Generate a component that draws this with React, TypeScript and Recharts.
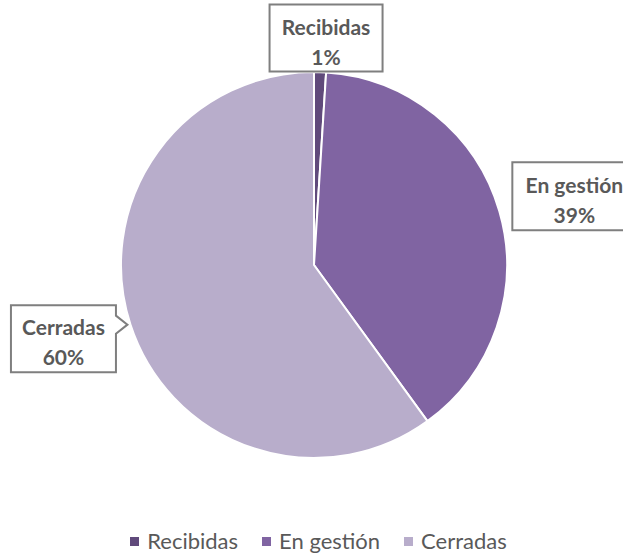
import { PieChart, Pie, Cell, Legend } from 'recharts';

const categories = ['Recibidas', 'En gestión', 'Cerradas'];
const values = [1, 39, 60];
const colors = ['#604a7b', '#8064a2', '#b8adcb'];

// posición de cada etiqueta respecto al borde del sector
const labelBoxes = [
  { dx: 6, dy: -34, w: 113, h: 67, pointer: 'none' },
  { dx: 75, dy: -15, w: 124, h: 68, pointer: 'none' },
  { dx: -67, dy: 14, w: 105, h: 67, pointer: 'right' },
];

const data = categories.map((name, i) => ({ name, value: values[i] }));

const RADIAN = Math.PI / 180;
const FONT = 'Lato, "Open Sans", sans-serif';

function renderLabel(props: any) {
  const { cx, cy, midAngle, outerRadius, percent, name, index } = props;
  const ox = cx + outerRadius * Math.cos(-midAngle * RADIAN);
  const oy = cy + outerRadius * Math.sin(-midAngle * RADIAN);
  const box = labelBoxes[index];
  const bx = ox + box.dx;
  const by = oy + box.dy;
  const x0 = bx - box.w / 2;
  const x1 = bx + box.w / 2;
  const y0 = by - box.h / 2;
  const y1 = by + box.h / 2;

  let d = `M${x0},${y0} L${x1},${y0} L${x1},${y1} L${x0},${y1} Z`;
  if (box.pointer === 'right') {
    d = `M${x0},${y0} L${x1},${y0} L${x1},${oy - 9} L${ox - 3},${oy} L${x1},${oy + 9} L${x1},${y1} L${x0},${y1} Z`;
  }

  return (
    <g>
      <path d={d} fill="#ffffff" stroke="#7f7f7f" strokeWidth={2} />
      <text
        x={bx}
        y={by - 12}
        textAnchor="middle"
        dominantBaseline="central"
        fill="#595959"
        fontFamily={FONT}
        fontWeight="bold"
        fontSize={21}
      >
        {name}
      </text>
      <text
        x={bx}
        y={by + 18}
        textAnchor="middle"
        dominantBaseline="central"
        fill="#595959"
        fontFamily={FONT}
        fontWeight="bold"
        fontSize={21}
      >
        {`${Math.round(percent * 100)}%`}
      </text>
    </g>
  );
}

function LegendContent() {
  return (
    <div
      style={{
        display: 'flex',
        justifyContent: 'center',
        fontFamily: FONT,
        fontSize: 22,
        lineHeight: '24px',
        color: '#595959',
        paddingLeft: 14,
      }}
    >
      {categories.map((name, i) => (
        <div key={name} style={{ display: 'flex', alignItems: 'center', margin: '0 12px' }}>
          <span style={{ width: 9, height: 9, background: colors[i], marginRight: 8, display: 'inline-block' }} />
          <span>{name}</span>
        </div>
      ))}
    </div>
  );
}

export default function App() {
  return (
    <div style={{ width: 623, height: 554, background: '#ffffff' }}>
      <style>{'body { margin: 0; }'}</style>
      <PieChart width={623} height={554} margin={{ top: 0, right: 0, bottom: 0, left: 0 }}>
        <Pie
          data={data}
          dataKey="value"
          nameKey="name"
          cx={314}
          cy={265}
          outerRadius={193}
          startAngle={90}
          endAngle={-270}
          stroke="#ffffff"
          strokeWidth={2}
          label={renderLabel}
          labelLine={false}
          isAnimationActive={false}
        >
          {data.map((entry, i) => (
            <Cell key={entry.name} fill={colors[i]} />
          ))}
        </Pie>
        <Legend verticalAlign="bottom" wrapperStyle={{ bottom: 1 }} content={LegendContent} />
      </PieChart>
    </div>
  );
}
